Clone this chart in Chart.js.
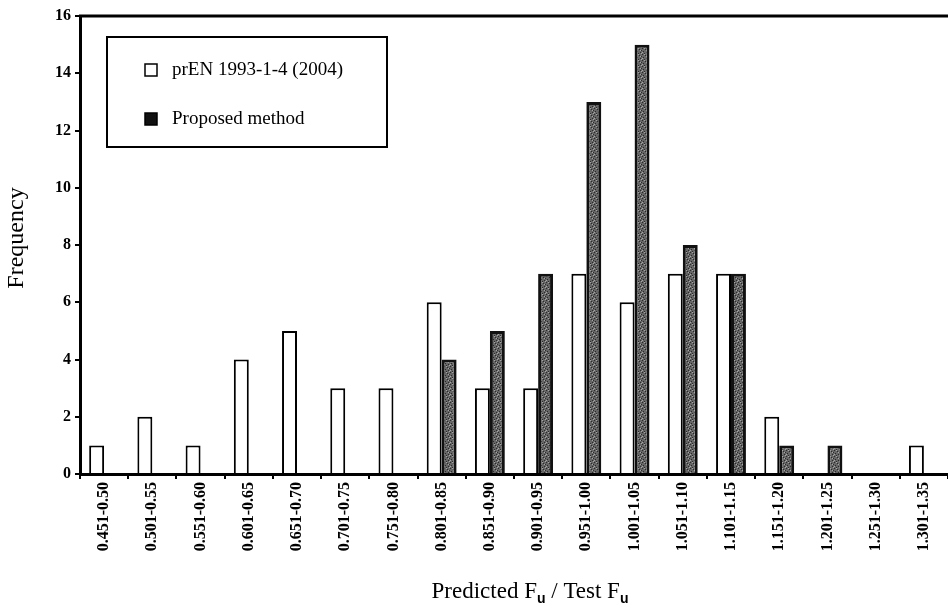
<!DOCTYPE html>
<html>
<head>
<meta charset="utf-8">
<script src="https://cdn.jsdelivr.net/npm/chart.js@4/dist/chart.umd.min.js"></script>
<style>
  html, body { margin: 0; padding: 0; background: #fff; }
  #wrap { width: 948px; height: 611px; position: relative; }
</style>
</head>
<body>
<div id="wrap"><canvas id="c"></canvas></div>
<script>
// Ratio bins of predicted / test ultimate load
const categories = ['0.451-0.50','0.501-0.55','0.551-0.60','0.601-0.65','0.651-0.70','0.701-0.75','0.751-0.80','0.801-0.85','0.851-0.90','0.901-0.95','0.951-1.00','1.001-1.05','1.051-1.10','1.101-1.15','1.151-1.20','1.201-1.25','1.251-1.30','1.301-1.35'];
const codeFrequency     = [1, 2, 1, 4, 5, 3, 3, 6, 3, 3, 7, 6, 7, 7, 2, 0, 0, 1];
const proposedFrequency = [0, 0, 0, 0, 0, 0, 0, 4, 5, 7, 13, 15, 8, 7, 1, 1, 0, 0];
const yTicks = [0, 2, 4, 6, 8, 10, 12, 14, 16];
const seriesNames = ['prEN 1993-1-4 (2004)', 'Proposed method'];

const SERIF = '"Liberation Serif", "Times New Roman", serif';
const SANS = '"Liberation Sans", Arial, sans-serif';

// Grey speckled fill for the dark bars
function speckle() {
  const c = document.createElement('canvas');
  c.width = 6; c.height = 6;
  const g = c.getContext('2d');
  g.fillStyle = '#666666'; g.fillRect(0, 0, 6, 6);
  g.fillStyle = '#2a2a2a';
  [[0,0],[3,1],[1,3],[4,4],[2,5],[5,2]].forEach(p => g.fillRect(p[0], p[1], 1, 1));
  g.fillStyle = '#a5a5a5';
  [[2,0],[5,5],[0,4],[4,2]].forEach(p => g.fillRect(p[0], p[1], 1, 1));
  return g.createPattern(c, 'repeat');
}

// Frame line along the top, axis titles and the boxed legend
const decorations = {
  id: 'decorations',
  afterDraw(chart) {
    const ctx = chart.ctx;
    const a = chart.chartArea;
    ctx.save();
    ctx.strokeStyle = '#000';
    ctx.lineWidth = 3;
    ctx.beginPath();
    ctx.moveTo(a.left - 1, a.top);
    ctx.lineTo(a.right, a.top);
    ctx.stroke();

    // y title
    ctx.fillStyle = '#000';
    ctx.font = '24px ' + SERIF;
    ctx.textAlign = 'center';
    ctx.textBaseline = 'middle';
    ctx.save();
    ctx.translate(17, 238);
    ctx.rotate(-Math.PI / 2);
    ctx.fillText('Frequency', 0, 0);
    ctx.restore();

    // x title with subscripts
    const parts = [
      ['Predicted F', '23px ' + SERIF, 0],
      ['u', 'bold 14px ' + SANS, 5],
      [' / Test F', '23px ' + SERIF, 0],
      ['u', 'bold 14px ' + SANS, 5]
    ];
    let total = 0;
    parts.forEach(p => { ctx.font = p[1]; total += ctx.measureText(p[0]).width; });
    let x = 530 - total / 2;
    const baseY = 598;
    ctx.textAlign = 'left';
    ctx.textBaseline = 'alphabetic';
    parts.forEach(p => {
      ctx.font = p[1];
      ctx.fillText(p[0], x, baseY + p[2]);
      x += ctx.measureText(p[0]).width;
    });

    // legend box
    ctx.lineWidth = 2;
    ctx.strokeRect(107, 37, 280, 110);
    chart.data.datasets.forEach((ds, i) => {
      const cy = 70 + i * 49;
      ctx.fillStyle = i === 0 ? '#fff' : '#111';
      ctx.fillRect(145, cy - 6, 12, 12);
      ctx.lineWidth = 1.5;
      ctx.strokeStyle = '#000';
      ctx.strokeRect(145, cy - 6, 12, 12);
      ctx.fillStyle = '#000';
      ctx.font = '19px ' + SERIF;
      ctx.textBaseline = 'middle';
      ctx.fillText(ds.label, 172, cy);
    });
    ctx.restore();
  }
};

new Chart(document.getElementById('c'), {
  type: 'bar',
  data: {
    labels: categories,
    datasets: [
      {
        label: seriesNames[0],
        data: codeFrequency,
        backgroundColor: '#fff',
        borderColor: '#000',
        borderWidth: 2
      },
      {
        label: seriesNames[1],
        data: proposedFrequency,
        backgroundColor: speckle(),
        borderColor: '#111',
        borderWidth: 3
      }
    ]
  },
  options: {
    responsive: true,
    maintainAspectRatio: false,
    animation: false,
    datasets: { bar: { categoryPercentage: 0.62, barPercentage: 1 } },
    layout: { padding: { top: 16, right: 0, left: 0, bottom: 0 } },
    plugins: { legend: { display: false }, tooltip: { enabled: false } },
    scales: {
      x: {
        offset: true,
        grid: { display: true, drawOnChartArea: false, drawTicks: true, tickLength: 5, color: '#000', lineWidth: 2, offset: true },
        border: { display: true, color: '#000', width: 3 },
        ticks: {
          color: '#000',
          font: { family: SERIF, size: 16, weight: 'bold' },
          minRotation: 90, maxRotation: 90, padding: 3, autoSkip: false
        },
        afterFit(s) { s.height = 137; }
      },
      y: {
        min: 0, max: 16,
        afterBuildTicks(s) { s.ticks = yTicks.map(v => ({ value: v })); },
        grid: { display: true, drawOnChartArea: false, drawTicks: true, tickLength: 5, color: '#000', lineWidth: 2 },
        border: { display: true, color: '#000', width: 3 },
        ticks: {
          color: '#000',
          font: { family: SERIF, size: 16, weight: 'bold' },
          padding: 4
        },
        afterFit(s) { s.width = 80; }
      }
    }
  },
  plugins: [decorations]
});
</script>
</body>
</html>
